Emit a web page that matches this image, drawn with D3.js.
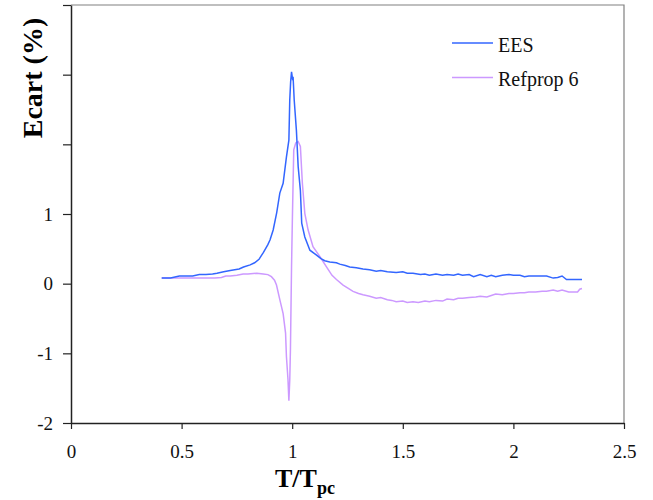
<!DOCTYPE html>
<html>
<head>
<meta charset="utf-8">
<script src="https://cdn.jsdelivr.net/npm/d3@7"></script>
<style>
  body { margin: 0; background: #fff; }
  text { font-family: "Liberation Serif", "Times New Roman", serif; }
</style>
</head>
<body>
<svg id="chart"></svg>
<script>
// T/Tpc and deviation (%)
const eesX = [0.41, 0.45, 0.49, 0.52, 0.55, 0.58, 0.61, 0.64, 0.66, 0.69, 0.72, 0.74, 0.76, 0.78, 0.81, 0.83, 0.85, 0.87, 0.89, 0.90, 0.914, 0.93, 0.944, 0.959, 0.974, 0.985, 0.989, 0.993, 0.997, 1.001, 1.004, 1.009, 1.019, 1.027, 1.037, 1.043, 1.057, 1.08, 1.11, 1.13, 1.147, 1.17, 1.20, 1.215, 1.24, 1.26, 1.29, 1.32, 1.35, 1.38, 1.40, 1.43, 1.47, 1.50, 1.52, 1.546, 1.58, 1.60, 1.62, 1.65, 1.68, 1.70, 1.73, 1.75, 1.77, 1.80, 1.82, 1.85, 1.88, 1.90, 1.92, 1.95, 1.98, 2.0, 2.03, 2.05, 2.07, 2.10, 2.13, 2.15, 2.18, 2.20, 2.22, 2.24, 2.27, 2.31];
const eesY = [0.08, 0.08, 0.11, 0.11, 0.11, 0.13, 0.13, 0.14, 0.15, 0.17, 0.19, 0.20, 0.21, 0.24, 0.27, 0.30, 0.35, 0.45, 0.56, 0.63, 0.77, 1.02, 1.30, 1.44, 1.82, 2.06, 2.64, 2.90, 3.04, 2.95, 2.97, 2.64, 2.20, 1.68, 1.34, 0.87, 0.67, 0.48, 0.41, 0.36, 0.33, 0.31, 0.30, 0.28, 0.26, 0.24, 0.23, 0.21, 0.20, 0.18, 0.19, 0.17, 0.16, 0.17, 0.15, 0.15, 0.13, 0.14, 0.12, 0.14, 0.12, 0.13, 0.12, 0.14, 0.12, 0.13, 0.10, 0.13, 0.10, 0.12, 0.10, 0.12, 0.13, 0.12, 0.12, 0.10, 0.11, 0.11, 0.11, 0.11, 0.08, 0.09, 0.11, 0.06, 0.06, 0.06];

const refX = [0.41, 0.45, 0.50, 0.55, 0.60, 0.65, 0.68, 0.70, 0.72, 0.75, 0.778, 0.80, 0.84, 0.869, 0.89, 0.906, 0.92, 0.929, 0.944, 0.959, 0.97, 0.974, 0.981, 0.985, 0.989, 0.992, 0.997, 1.001, 1.007, 1.016, 1.027, 1.037, 1.046, 1.057, 1.072, 1.094, 1.125, 1.155, 1.18, 1.20, 1.23, 1.25, 1.275, 1.30, 1.32, 1.35, 1.38, 1.40, 1.43, 1.45, 1.47, 1.50, 1.52, 1.546, 1.57, 1.60, 1.62, 1.65, 1.68, 1.70, 1.73, 1.75, 1.77, 1.80, 1.83, 1.85, 1.88, 1.90, 1.92, 1.95, 1.98, 2.0, 2.03, 2.05, 2.07, 2.10, 2.13, 2.15, 2.18, 2.20, 2.22, 2.25, 2.29, 2.30, 2.31];
const refY = [0.08, 0.08, 0.08, 0.08, 0.08, 0.08, 0.09, 0.11, 0.11, 0.12, 0.14, 0.14, 0.15, 0.14, 0.13, 0.10, 0.05, -0.02, -0.23, -0.43, -0.71, -1.05, -1.38, -1.68, -1.38, -0.95, 0.24, 0.96, 1.92, 2.02, 2.04, 1.97, 1.44, 1.01, 0.77, 0.53, 0.39, 0.24, 0.12, 0.06, -0.02, -0.06, -0.11, -0.14, -0.16, -0.18, -0.21, -0.20, -0.23, -0.24, -0.26, -0.25, -0.27, -0.26, -0.27, -0.25, -0.26, -0.24, -0.25, -0.22, -0.23, -0.21, -0.21, -0.20, -0.19, -0.18, -0.19, -0.17, -0.15, -0.16, -0.14, -0.14, -0.13, -0.13, -0.12, -0.12, -0.11, -0.11, -0.09, -0.11, -0.09, -0.12, -0.12, -0.08, -0.07];

const xTicks = [0, 0.5, 1, 1.5, 2, 2.5];
const yTicks = [-2, -1, 0, 1, 2, 3, 4];
const yLabelled = [-2, -1, 0, 1];
const seriesNames = ["EES", "Refprop 6"];
const seriesColors = ["#3366ff", "#cc99ff"];

const config = {
  width: 653, height: 500,
  margin: { top: 5, right: 29, bottom: 77, left: 71 }
};

const innerW = config.width - config.margin.left - config.margin.right;
const innerH = config.height - config.margin.top - config.margin.bottom;

const svg = d3.select('#chart')
  .attr('width', config.width)
  .attr('height', config.height);

const chart = svg.append('g')
  .attr('transform', `translate(${config.margin.left},${config.margin.top})`);

const xScale = d3.scaleLinear().domain([0, 2.5]).range([0, innerW]);
const yScale = d3.scaleLinear().domain([-2, 4]).range([innerH, 0]);

// top and right frame (grey)
chart.append('path')
  .attr('d', `M0,0H${innerW}V${innerH}`)
  .attr('fill', 'none')
  .attr('stroke', '#808080')
  .attr('stroke-width', 1.2);

const xAxis = d3.axisBottom(xScale)
  .tickValues(xTicks)
  .tickSize(6)
  .tickSizeOuter(0)
  .tickPadding(16)
  .tickFormat(d => d);

const yAxis = d3.axisLeft(yScale)
  .tickValues(yTicks)
  .tickSize(8)
  .tickSizeOuter(0)
  .tickPadding(10)
  .tickFormat(d => yLabelled.includes(d) ? d : '');

const xAxisG = chart.append('g')
  .attr('transform', `translate(0,${innerH})`)
  .call(xAxis);
const yAxisG = chart.append('g').call(yAxis);

[xAxisG, yAxisG].forEach(g => {
  g.attr('font-family', '"Liberation Serif", serif').attr('font-size', 19);
  g.selectAll('.domain').attr('stroke', '#222').attr('stroke-width', 1.5);
  g.selectAll('.tick line').attr('stroke', '#222').attr('stroke-width', 1.2);
  g.selectAll('.tick text')
    .attr('fill', '#111')
    .style('font-family', '"Liberation Serif", serif')
    .style('font-size', '19px');
});

// lines
const line = d3.line()
  .x(d => xScale(d[0]))
  .y(d => yScale(d[1]));

const refData = refX.map((x, i) => [x, refY[i]]);
const eesData = eesX.map((x, i) => [x, eesY[i]]);

chart.append('path')
  .datum(refData)
  .attr('fill', 'none')
  .attr('stroke', seriesColors[1])
  .attr('stroke-width', 1.5)
  .attr('d', line);

chart.append('path')
  .datum(eesData)
  .attr('fill', 'none')
  .attr('stroke', seriesColors[0])
  .attr('stroke-width', 1.5)
  .attr('d', line);

// legend
const legend = svg.append('g').attr('transform', 'translate(452,43)');
seriesNames.forEach((name, i) => {
  const row = legend.append('g').attr('transform', `translate(0,${i * 34.5})`);
  row.append('line')
    .attr('x1', 0).attr('x2', 41)
    .attr('y1', 0).attr('y2', 0)
    .attr('stroke', seriesColors[i])
    .attr('stroke-width', 1.5);
  row.append('text')
    .attr('x', 46)
    .attr('y', 8.5)
    .style('font-size', '20px')
    .attr('fill', '#111')
    .text(name);
});

// axis titles
svg.append('text')
  .attr('transform', 'translate(42,78) rotate(-90)')
  .attr('text-anchor', 'middle')
  .style('font-size', '28px')
  .style('font-weight', 'bold')
  .text('Ecart (%)');

const xt = svg.append('text')
  .attr('x', 275)
  .attr('y', 487)
  .style('font-size', '26px')
  .style('font-weight', 'bold');
xt.append('tspan').text('T/T');
xt.append('tspan')
  .attr('dy', 7)
  .style('font-size', '18px')
  .text('pc');
</script>
</body>
</html>
